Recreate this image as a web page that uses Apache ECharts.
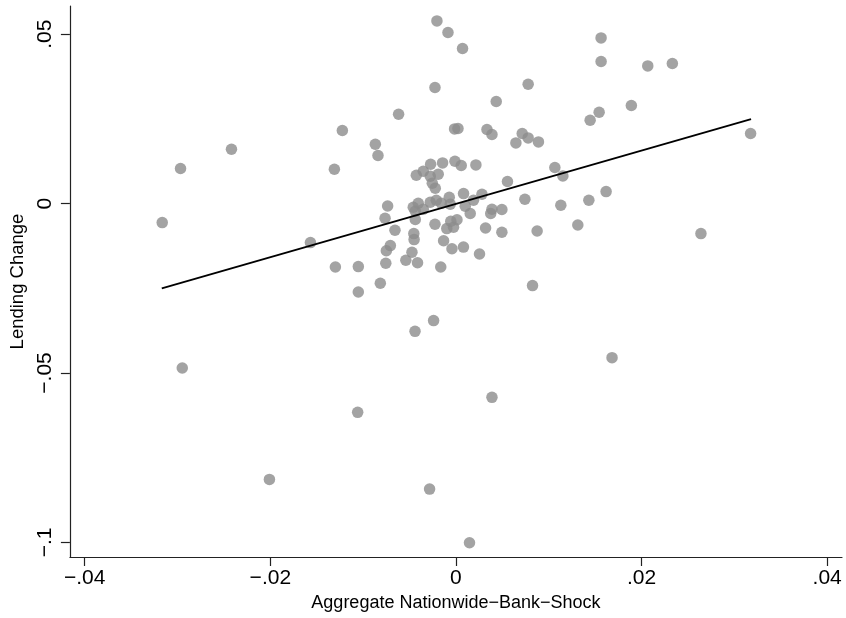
<!DOCTYPE html>
<html>
<head>
<meta charset="utf-8">
<title>Lending Change</title>
<script src="https://cdn.jsdelivr.net/npm/echarts@6/dist/echarts.min.js"></script>
<style>
    html, body { margin: 0; padding: 0; background: #fff; }
    #main { width: 846px; height: 618px; }
</style>
</head>
<body>
<div id="main"></div>
<script>
//横轴：Aggregate Nationwide-Bank-Shock
var shockX = [
    -0.03165, -0.02968, -0.02419, -0.02949, -0.02010, -0.00241, -0.00441, 0.00388, -0.01059, -0.00284,
    0.00146, 0.01682, 0.01564, 0.01564, 0.02067, 0.02332, 0.01543, 0.01890, 0.03175, 0.01618,
    0.02640,
    -0.00205, -0.00086, 0.00071, 0.00778, -0.00226, 0.00434, -0.00618, 0.01446, -0.01224, -0.00015,
    0.00022, 0.00334, 0.00388, 0.00714, 0.00778, 0.00889, 0.00646, -0.00869, -0.00840, -0.01310,
    -0.00144, -0.00011, 0.00057, 0.00215, -0.00273, 0.01066, 0.01152, 0.00555, 0.01432, 0.01130,
    0.00743, -0.01568, 0.01313, 0.00875, 0.00825, -0.01299, -0.01052, -0.00815, -0.01052,
    -0.00427, -0.00352, -0.00277, -0.00191, -0.00255, -0.00223,
    -0.00736, -0.00460, -0.00406, -0.00438, -0.00352, -0.00277, -0.00212, -0.00158, -0.00072, -0.00061,
    0.00082, 0.00280, 0.00189, 0.00100, 0.00154, 0.00388, 0.00495, 0.00375, -0.00764, -0.00657,
    -0.00438, -0.00226, -0.00099, -0.00026, 0.00011, -0.00056, 0.00319, 0.00495, -0.00454, -0.00451,
    -0.00133, -0.00707, -0.00750, -0.00474, -0.00043, 0.00081, 0.00254, -0.00540, -0.00414, -0.00756,
    -0.00164
];
//纵轴：Lending Change
var lendingY = [
    -0.00561, 0.01033, 0.01603, -0.04854, -0.08140, -0.03454, -0.03770, -0.05719, -0.06162, -0.08426,
    -0.10009, -0.04547, 0.04889, 0.04192, 0.04063, 0.04133, 0.02696, 0.02893, 0.02067, 0.00354,
    -0.00886,
    0.05391, 0.05049, 0.04576, 0.03522, 0.03425, 0.03012, 0.02637, 0.02459, 0.02155, 0.02203,
    0.02214, 0.02185, 0.02037, 0.02067, 0.01937, 0.01819, 0.01789, 0.01751, 0.01417, 0.01013,
    0.01199, 0.01249, 0.01122, 0.01140, 0.01160, 0.01063, 0.00815, 0.00650, 0.00097, -0.00050,
    0.00127, -0.01151, -0.00632, -0.00809, -0.02421, -0.01872, -0.01860, -0.02353, -0.02610,
    0.00836, 0.00954, 0.00806, 0.00865, 0.00599, 0.00452,
    -0.00071, -0.00109, 0.00009, -0.00227, -0.00168, 0.00038, 0.00097, 0.00009, 0.00186, -0.00021,
    0.00295, 0.00275, 0.00097, -0.00080, -0.00295, -0.00168, -0.00177, -0.00295, -0.00434, -0.00788,
    -0.00472, -0.00611, -0.00738, -0.00700, -0.00478, -0.00523, -0.00720, -0.00847, -0.00886, -0.01063,
    -0.01098, -0.01240, -0.01394, -0.01438, -0.01335, -0.01284, -0.01488, -0.01674, -0.01748, -0.01763,
    -0.01872
];
//拟合线两端
var fitX = [-0.0317, 0.0318];
var fitY = [-0.0250, 0.0249];
//刻度
var xTicks = [-0.04, -0.02, 0, 0.02, 0.04];
var yTicks = [-0.1, -0.05, 0, 0.05];

var chartManager = {
    //Stata风格的刻度文字: .05 / −.05
    fmtTick: function (v) {
        if (Math.abs(v) < 1e-12) return '0';
        var s = String(parseFloat(Math.abs(v).toFixed(4))).replace(/^0/, '');
        return (v < 0 ? '\u2212' : '') + s;
    },
    initChart: function () {
        var myChart = echarts.init(document.getElementById('main'), null, { renderer: 'canvas' });
        var points = [], line = [];
        for (var i = 0; i < shockX.length; i++) {
            points.push([shockX[i], lendingY[i]]);
        }
        for (var j = 0; j < fitX.length; j++) {
            line.push([fitX[j], fitY[j]]);
        }
        var fontName = 'Liberation Sans, Arial, sans-serif';
        var option = {
            animation: false,
            backgroundColor: '#fff',
            grid: { left: 69, right: 4, top: 6, bottom: 61, containLabel: false },
            xAxis: {
                type: 'value',
                min: -0.0416,
                max: 0.0416,
                name: 'Aggregate Nationwide\u2212Bank\u2212Shock',
                nameLocation: 'middle',
                nameGap: 37,
                nameTextStyle: { color: '#000', fontSize: 18, fontFamily: fontName },
                axisLine: { onZero: false, lineStyle: { color: '#222', width: 1.2 } },
                axisTick: { show: true, length: 9, lineStyle: { color: '#222', width: 1.2 }, customValues: xTicks },
                axisLabel: {
                    customValues: xTicks,
                    margin: 11,
                    fontSize: 21,
                    color: '#000',
                    fontFamily: fontName,
                    formatter: chartManager.fmtTick
                },
                splitLine: { show: false }
            },
            yAxis: {
                type: 'value',
                min: -0.1043,
                max: 0.0583,
                name: 'Lending Change',
                nameLocation: 'middle',
                nameRotate: 90,
                nameGap: 37,
                nameTextStyle: { color: '#000', fontSize: 18.5, fontFamily: fontName },
                axisLine: { show: true, onZero: false, lineStyle: { color: '#222', width: 1.2 } },
                axisTick: { show: true, length: 9, lineStyle: { color: '#222', width: 1.2 }, customValues: yTicks },
                axisLabel: {
                    customValues: yTicks,
                    rotate: 90,
                    margin: 14,
                    fontSize: 21,
                    color: '#000',
                    fontFamily: fontName,
                    formatter: chartManager.fmtTick
                },
                splitLine: { show: false }
            },
            series: [
                {
                    type: 'scatter',
                    data: points,
                    symbol: 'circle',
                    symbolSize: 11.5,
                    itemStyle: { color: '#8c8c8c' },
                    z: 2
                },
                {
                    type: 'line',
                    data: line,
                    showSymbol: false,
                    lineStyle: { color: '#000', width: 1.8 },
                    z: 3
                }
            ]
        };
        myChart.setOption(option);
    }
};

chartManager.initChart();
</script>
</body>
</html>
